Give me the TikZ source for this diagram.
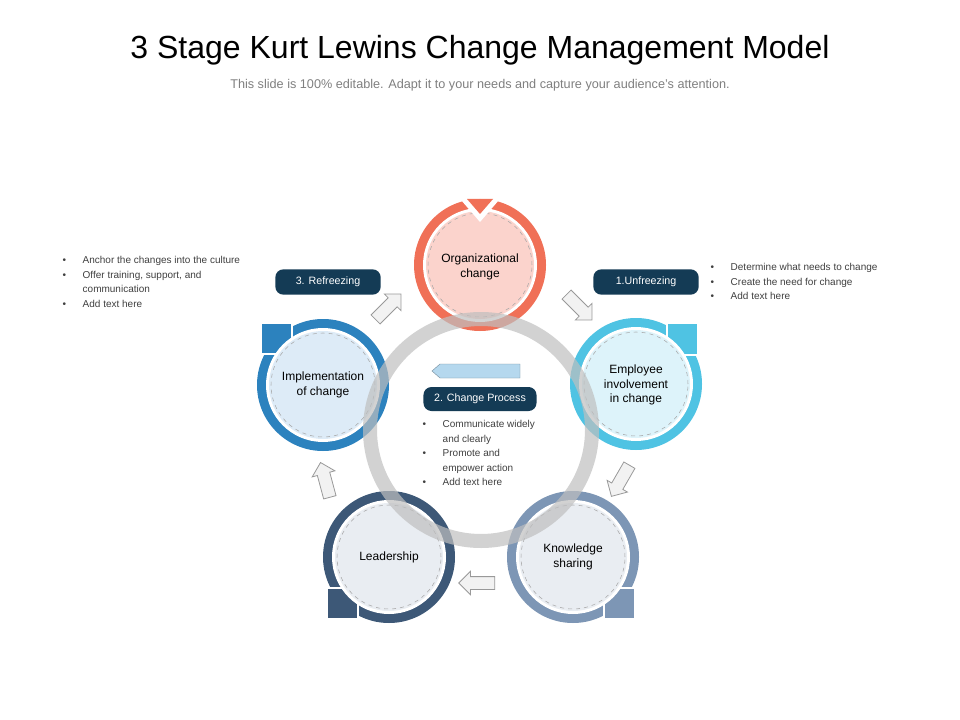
\documentclass[tikz,border=0pt]{standalone}
\usepackage{fontspec}
\setmainfont{Liberation Sans}
\usetikzlibrary{shapes.arrows}
\definecolor{navy}{HTML}{143B55}
\definecolor{orgR}{HTML}{F07057}\definecolor{orgF}{HTML}{FBD3CC}
\definecolor{empR}{HTML}{4FC3E3}\definecolor{empF}{HTML}{DDF3FA}
\definecolor{impR}{HTML}{2C82BE}\definecolor{impF}{HTML}{DDEBF7}
\definecolor{leaR}{HTML}{3D5877}\definecolor{leaF}{HTML}{E9EDF2}
\definecolor{knoR}{HTML}{7D96B5}\definecolor{knoF}{HTML}{E9EDF2}
\definecolor{txtg}{HTML}{404040}
\definecolor{barF}{HTML}{B5D8EE}
\tikzset{
 lbl/.style={fill=navy,text=white,rounded corners=6pt,minimum height=19pt,inner xsep=8pt,font=\fontsize{8}{9}\selectfont},
 ctext/.style={align=center,font=\fontsize{9}{11}\selectfont,text=black},
 bul/.style={align=left,font=\fontsize{7.5}{10.8}\selectfont,text=txtg,anchor=north west},
 barr/.style={single arrow,draw=gray!80,fill=gray!10,minimum height=27pt,inner sep=4.5pt,single arrow head extend=4pt,line width=0.6pt}
}
\newcommand{\ringpart}[2]{\fill[#2] #1 circle (66*0.75pt);}
\newcommand{\innerpart}[2]{%
 \fill[white] #1 circle (57*0.75pt);
 \fill[#2] #1 circle (54*0.75pt);
 \draw[gray!70,dashed,line width=0.4pt] #1 circle (52*0.75pt);}
\newcommand{\bl}{\makebox[15pt][l]{\textbullet}}
\newcommand{\cl}{\hspace*{15pt}}
\begin{document}
\begin{tikzpicture}[x=0.75pt,y=-0.75pt]
\useasboundingbox[fill=white] (0,0) rectangle (960,720);
\node (title) at (480,50) {\fontsize{24}{30}\selectfont 3 Stage Kurt Lewins Change Management Model};
\node[text=gray] (sub) at (480,85) {\fontsize{9.5}{11}\selectfont This slide is 100\% editable. Adapt it to your needs and capture your audience's attention.};
% circles
\ringpart{(480,265)}{orgR}
\innerpart{(480,265)}{orgF}
\fill[white] (461,200) -- (499,200) -- (480,222) -- cycle;
\fill[orgR] (467,199) -- (493,199) -- (480,214) -- cycle;
\ringpart{(636,384)}{empR}
\fill[empR,draw=white,line width=1.2pt] (667,323) rectangle (698,355);
\innerpart{(636,384)}{empF}
\ringpart{(323,385)}{impR}
\fill[impR,draw=white,line width=1.2pt] (261,323) rectangle (292,354);
\innerpart{(323,385)}{impF}
\ringpart{(389,557)}{leaR}
\fill[leaR,draw=white,line width=1.2pt] (327,588) rectangle (358,619);
\innerpart{(389,557)}{leaF}
\ringpart{(573,557)}{knoR}
\fill[knoR,draw=white,line width=1.2pt] (604,588) rectangle (635,619);
\innerpart{(573,557)}{knoF}
% big ring
\fill[gray!50,opacity=0.7,even odd rule] (481,430) circle (118*0.75pt) (481,430) circle (104*0.75pt);
\node[ctext] (org) at (480,267) {Organizational\\change};
\node[ctext] (emp) at (636,385) {Employee\\involvement\\in change};
\node[ctext] (imp) at (323,385) {Implementation\\of change};
\node[ctext] (lea) at (389,557) {Leadership};
\node[ctext] (kno) at (573,557) {Knowledge\\sharing};
% arrows
\node[barr,rotate=45] (a1) at (386,309) {};
\node[barr,rotate=-45] (a2) at (577,305) {};
\node[barr,rotate=-120] (a3) at (622,478) {};
\node[barr,rotate=180] (a4) at (480,583) {};
\node[barr,rotate=105] (a5) at (326,483) {};
% labels
\node[lbl,minimum width=79pt] (l3) at (328,282) {3. Refreezing};
\node[lbl,minimum width=79pt] (l1) at (646,282) {1.Unfreezing};
\node[lbl,minimum width=72pt,minimum height=18pt] (l2) at (480,399) {2. Change Process};
\fill[barF,draw=navy!60,line width=0.3pt] (520,364) -- (440,364) -- (432,371) -- (440,378) -- (520,378) -- cycle;
% bullets
\node[bul] (b3) at (58,252) {\bl Anchor the changes into the culture\\
 \bl Offer training, support, and\\ \cl communication\\ \bl Add text here};
\node[bul] (b1) at (706,259) {\bl Determine what needs to change\\
 \bl Create the need for change\\ \bl Add text here};
\node[bul] (b2) at (418,416) {\bl Communicate widely\\ \cl and clearly\\
 \bl Promote and\\ \cl empower action\\ \bl Add text here};
\end{tikzpicture}
\end{document}
